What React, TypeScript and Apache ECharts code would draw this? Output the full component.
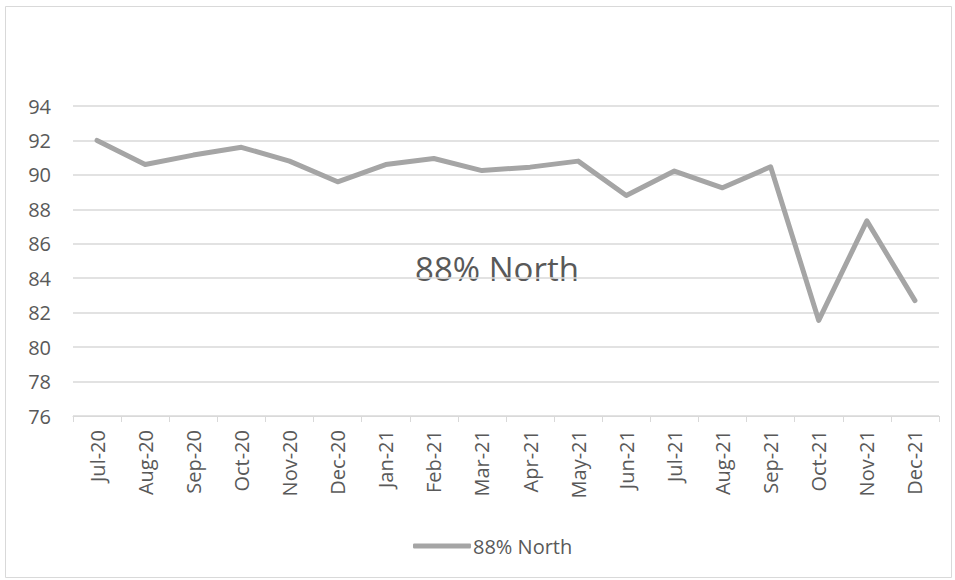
import React, { useEffect, useRef } from "react";
import * as echarts from "echarts";

const categories = [
  "Jul-20", "Aug-20", "Sep-20", "Oct-20", "Nov-20", "Dec-20",
  "Jan-21", "Feb-21", "Mar-21", "Apr-21", "May-21", "Jun-21",
  "Jul-21", "Aug-21", "Sep-21", "Oct-21", "Nov-21", "Dec-21",
];
const northValues = [
  92.0, 90.6, 91.15, 91.6, 90.8, 89.6,
  90.6, 90.95, 90.25, 90.45, 90.8, 88.8,
  90.22, 89.25, 90.47, 81.55, 87.33, 82.7,
];
const seriesName = "88% North";
const yMin = 76;
const yMax = 94;
const yInterval = 2;

const FONT = "'Open Sans', 'Noto Sans', sans-serif";
const TEXT = "#595959";
const GRID = "#d9d9d9";
const LINE = "#a5a5a5";

export default function App() {
  const ref = useRef<HTMLDivElement>(null);
  useEffect(() => {
    if (!ref.current) return;
    const chart = echarts.init(ref.current, null, { renderer: "svg" });
    chart.setOption({
      animation: false,
      backgroundColor: "#ffffff",
      textStyle: { fontFamily: FONT },
      grid: { left: 73, right: 16, top: 106, bottom: 164, containLabel: false },
      graphic: [
        {
          type: "rect",
          shape: { x: 5.5, y: 6.5, width: 946, height: 571 },
          style: { fill: "none", stroke: GRID, lineWidth: 1 },
          silent: true,
        },
        {
          type: "text",
          x: 497,
          y: 268,
          style: {
            text: seriesName,
            font: `33px ${FONT}`,
            fill: TEXT,
            textAlign: "center",
            textVerticalAlign: "middle",
          },
          silent: true,
        },
      ],
      legend: {
        data: [{ name: seriesName, icon: "roundRect" }],
        left: 408,
        top: 531,
        itemWidth: 58,
        itemHeight: 5,
        itemGap: 10,
        textStyle: { color: TEXT, fontSize: 20, fontFamily: FONT, padding: [0, 0, 0, -3] },
      },
      xAxis: {
        type: "category",
        data: categories,
        boundaryGap: true,
        axisLine: { show: true, lineStyle: { color: GRID, width: 1 } },
        axisTick: { show: true, length: 6, alignWithLabel: false, lineStyle: { color: GRID } },
        axisLabel: {
          rotate: 90,
          interval: 0,
          color: TEXT,
          fontSize: 20,
          fontFamily: FONT,
          margin: 14,
        },
        splitLine: { show: false },
      },
      yAxis: {
        type: "value",
        min: yMin,
        max: yMax,
        interval: yInterval,
        axisLine: { show: false },
        axisTick: { show: false },
        axisLabel: { color: TEXT, fontSize: 20, fontFamily: FONT, margin: 22 },
        splitLine: { show: true, lineStyle: { color: GRID, width: 1.5 } },
      },
      series: [
        {
          name: seriesName,
          type: "line",
          data: northValues,
          showSymbol: false,
          symbol: "none",
          lineStyle: { color: LINE, width: 5, cap: "round", join: "round" },
          itemStyle: { color: LINE },
        },
      ],
    });
    return () => chart.dispose();
  }, []);
  return (
    <div
      ref={ref}
      style={{ position: "absolute", left: 0, top: 0, width: 955, height: 580 }}
    />
  );
}
